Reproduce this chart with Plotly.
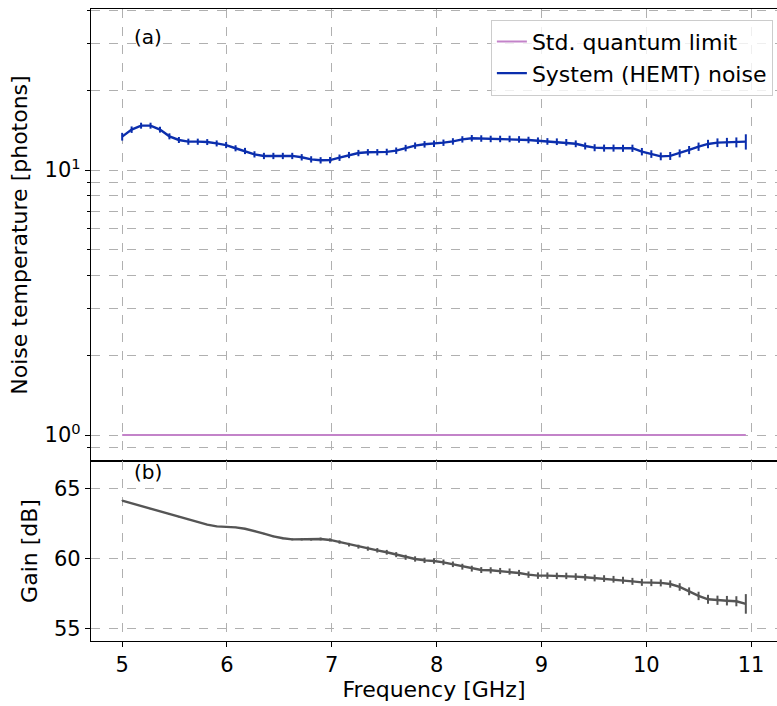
import numpy as np
import plotly.graph_objects as go

# Frequency sampling grid [GHz]
freq = np.linspace(5.0, 10.95, 67)

# System (HEMT) noise temperature [photons]
noise = [13.36, 14.2, 14.7, 14.7, 14.2, 13.4, 12.98, 12.79, 12.79, 12.75,
         12.6, 12.42, 12.08, 11.8, 11.46, 11.3, 11.3, 11.3, 11.3, 11.17,
         10.97, 10.88, 10.9, 11.13, 11.39, 11.59, 11.67, 11.67, 11.7, 11.83,
         12.1, 12.36, 12.5, 12.56, 12.68, 12.82, 13.05, 13.18, 13.15, 13.1,
         13.1, 13.1, 13.05, 12.98, 12.9, 12.82, 12.79, 12.72, 12.56, 12.32,
         12.14, 12.1, 12.1, 12.08, 12.08, 11.73, 11.49, 11.26, 11.3, 11.56,
         11.9, 12.25, 12.54, 12.68, 12.72, 12.72, 12.79]
noise_err = [0.45, 0.4, 0.38, 0.38, 0.36, 0.35, 0.34, 0.34, 0.34, 0.33,
             0.33, 0.33, 0.32, 0.32, 0.31, 0.31, 0.31, 0.31, 0.31, 0.31,
             0.3, 0.3, 0.3, 0.31, 0.31, 0.32, 0.32, 0.32, 0.33, 0.33,
             0.34, 0.34, 0.35, 0.35, 0.35, 0.36, 0.36, 0.37, 0.37, 0.37,
             0.37, 0.37, 0.37, 0.37, 0.37, 0.37, 0.37, 0.37, 0.37, 0.37,
             0.37, 0.37, 0.37, 0.37, 0.38, 0.38, 0.38, 0.38, 0.39, 0.4,
             0.42, 0.44, 0.46, 0.48, 0.5, 0.55, 0.85]

# Standard quantum limit [photons]
sql_x = [5.0, 10.95]
sql_y = [1.0, 1.0]

# Gain [dB]
gain = [64.17, 63.98, 63.76, 63.57, 63.38, 63.19, 63.0, 62.81, 62.62, 62.45,
        62.33, 62.31, 62.26, 62.16, 62.0, 61.81, 61.62, 61.48, 61.4, 61.4,
        61.4, 61.43, 61.36, 61.21, 61.02, 60.88, 60.74, 60.62, 60.48, 60.31,
        60.12, 60.0, 59.9, 59.86, 59.76, 59.62, 59.45, 59.31, 59.21, 59.19,
        59.14, 59.1, 59.0, 58.88, 58.81, 58.81, 58.79, 58.79, 58.74, 58.69,
        58.64, 58.6, 58.55, 58.48, 58.4, 58.33, 58.31, 58.29, 58.21, 58.0,
        57.69, 57.36, 57.12, 57.05, 57.02, 56.98, 56.79]
gain_err = [0.02, 0.02, 0.02, 0.02, 0.02, 0.03, 0.03, 0.03, 0.03, 0.03,
            0.04, 0.04, 0.04, 0.05, 0.05, 0.05, 0.06, 0.06, 0.07, 0.08,
            0.09, 0.1, 0.11, 0.12, 0.13, 0.14, 0.15, 0.16, 0.17, 0.18,
            0.18, 0.19, 0.19, 0.2, 0.2, 0.2, 0.21, 0.21, 0.21, 0.22,
            0.22, 0.22, 0.22, 0.23, 0.23, 0.23, 0.23, 0.23, 0.24, 0.24,
            0.24, 0.24, 0.24, 0.25, 0.25, 0.25, 0.25, 0.25, 0.26, 0.27,
            0.28, 0.3, 0.32, 0.33, 0.34, 0.36, 0.7]

x_ticks = [5, 6, 7, 8, 9, 10, 11]
noise_major = [1, 10]
noise_major_text = ["10<sup>0</sup>", "10<sup>1</sup>"]
noise_minor = [0.9, 2, 3, 4, 5, 6, 7, 8, 9, 20, 30, 40]
gain_ticks = [55, 60, 65]

BLUE = "#0b2ead"
PURPLE = "#c383c9"
GRAY = "#555555"
GRID = "#b0b0b0"
FONT = "DejaVu Sans"

fig = go.Figure()

fig.add_trace(go.Scatter(
    x=sql_x, y=sql_y, mode="lines", name="Std. quantum limit",
    line=dict(color=PURPLE, width=2), xaxis="x", yaxis="y"))

fig.add_trace(go.Scatter(
    x=freq, y=noise, mode="lines", name="System (HEMT) noise",
    line=dict(color=BLUE, width=2.4),
    error_y=dict(type="data", array=noise_err, width=0, thickness=2, color=BLUE),
    xaxis="x", yaxis="y"))

fig.add_trace(go.Scatter(
    x=freq, y=gain, mode="lines", showlegend=False,
    line=dict(color=GRAY, width=2.4),
    error_y=dict(type="data", array=gain_err, width=0, thickness=2, color=GRAY),
    xaxis="x2", yaxis="y2"))

split = 180 / 632

common_axis = dict(showline=True, linecolor="black", linewidth=1.2, mirror=True,
                   showgrid=True, gridcolor=GRID, griddash="dash", gridwidth=1,
                   ticks="outside", ticklen=5, tickcolor="black", zeroline=False)

fig.update_layout(
    width=777, height=706,
    margin=dict(l=91, r=0, t=9, b=65),
    paper_bgcolor="white", plot_bgcolor="white",
    font=dict(family=FONT, size=21, color="black"),
    xaxis=dict(**common_axis, domain=[0, 1], anchor="y", range=[4.7025, 11.2475],
               tickvals=x_ticks, showticklabels=False, matches="x2"),
    yaxis=dict(**common_axis, domain=[split, 1], anchor="x", type="log",
               range=[np.log10(0.798), np.log10(40.5)],
               tickmode="array", tickvals=noise_major, ticktext=noise_major_text,
               minor=dict(tickmode="array", tickvals=noise_minor, showgrid=True,
                          gridcolor=GRID, griddash="dash", gridwidth=1,
                          ticks="outside", ticklen=3, tickcolor="black"),
               title=dict(text="Noise temperature [photons]", font=dict(size=22), standoff=10)),
    xaxis2=dict(**common_axis, domain=[0, 1], anchor="y2", range=[4.7025, 11.2475],
                tickvals=x_ticks,
                title=dict(text="Frequency [GHz]", font=dict(size=22), standoff=4)),
    yaxis2=dict(**common_axis, domain=[0, split], anchor="x2", range=[54.14, 67.0],
                tickvals=gain_ticks,
                title=dict(text="Gain [dB]", font=dict(size=22), standoff=10)),
    legend=dict(x=0.994, y=0.983, xanchor="right", yanchor="top",
                bordercolor="#cccccc", borderwidth=1, bgcolor="rgba(255,255,255,0.8)",
                font=dict(size=22), tracegroupgap=0),
    showlegend=True,
)

fig.add_annotation(text="(a)", xref="paper", yref="paper", x=0.06, y=0.955,
                   xanchor="left", yanchor="middle", showarrow=False, font=dict(size=20))
fig.add_annotation(text="(b)", xref="paper", yref="paper", x=0.06, y=split - 0.018,
                   xanchor="left", yanchor="middle", showarrow=False, font=dict(size=20))

fig.write_html("out.html", config={"displayModeBar": False},
               post_script="document.body.style.margin='0';document.body.style.padding='0';")
